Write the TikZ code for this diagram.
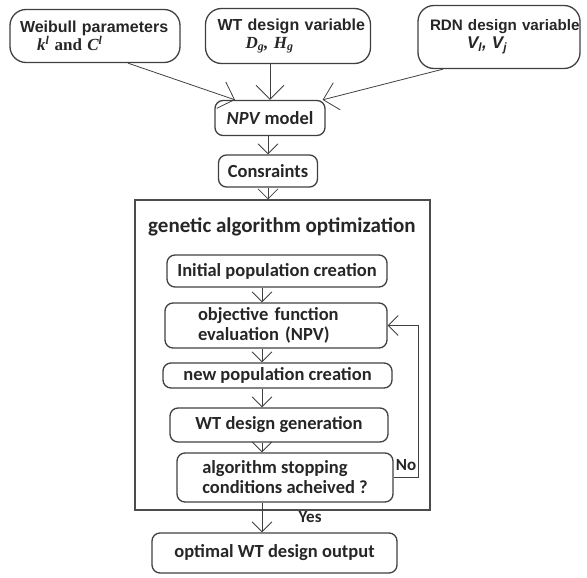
\documentclass[tikz,border=0pt]{standalone}
\usepackage{fontspec}
\setmainfont{Carlito}
\newfontfamily\arialfont{Liberation Sans}
\newfontfamily\timesfont{Liberation Serif}
\usetikzlibrary{arrows.meta}

\begin{document}
\begin{tikzpicture}[x=1pt, y=-1pt]

  \tikzset{flowbox/.style = {shape=rectangle, draw=black!75, line width=1.3pt, rounded corners=8pt,
      inner xsep=2pt, inner ysep=0pt, text=black!85, align=left,
      font=\bfseries\fontsize{18.5}{20}\selectfont}}
  \tikzset{inputbox/.style = {flowbox, rounded corners=16pt, inner xsep=10pt, font=\arialfont\bfseries\fontsize{16}{18}\selectfont}}
  \tikzset{edge/.style = {-{Straight Barb[length=10pt,width=20pt]}, line width=0.8pt, black!75}}
  \tikzset{bigedge/.style = {edge, -{Straight Barb[length=14pt,width=28pt]}}}
  \useasboundingbox (0,0) rectangle (587,578);
  % input boxes
  \node[inputbox, minimum width=170pt, minimum height=53pt, text width=150pt] (weib) at (95,36)
    {\mbox{Weibull parameters}\\\hspace*{17pt}{\timesfont\fontsize{17}{18}\selectfont\itshape k\textsuperscript{l}\upshape{} and \itshape C\textsuperscript{l}}};
  \node[inputbox, minimum width=165pt, minimum height=55pt, text width=141pt, inner xsep=12pt] (wtvar) at (288,36)
    {\mbox{WT design variable}\\\hspace*{28pt}{\timesfont\fontsize{17}{18}\selectfont\itshape D\textsubscript{g}, H\textsubscript{g}}};
  \node[inputbox, minimum width=162pt, minimum height=63pt, text width=138pt, inner xsep=12pt,
        font=\arialfont\bfseries\fontsize{15.2}{18}\selectfont] (rdn) at (499,37)
    {\mbox{RDN design variable}\\\hspace*{37pt}{\fontsize{17}{18}\selectfont\itshape V\textsubscript{l}, V\textsubscript{j}}};
  % main chain
  \node[flowbox, minimum width=110pt, minimum height=35pt] (npv) at (270,118) {\textit{NPV} model};
  \node[flowbox, minimum width=99pt, minimum height=32pt] (cons) at (268,171) {Consraints};
  \node[draw=black!70, line width=1.2pt, minimum width=295pt, minimum height=310pt] (ga) at (282.5,355) {};
  \node[font=\bfseries\fontsize{21}{24}\selectfont, text=black!85] (gatitle) at (282,227) {genetic algorithm optimization};
  \node[flowbox, minimum width=220pt, minimum height=32pt] (init) at (277,271) {Initial population creation};
  \node[flowbox, minimum width=222pt, minimum height=45pt, text width=156pt, inner xsep=33pt] (obj) at (276,325.5)
    {\mbox{objective function}\\\mbox{evaluation (NPV)}};
  \node[flowbox, minimum width=229pt, minimum height=25pt] (newpop) at (277.5,375.5) {new population creation};
  \node[flowbox, minimum width=218pt, minimum height=34pt] (wtgen) at (279,425) {WT design generation};
  \node[flowbox, minimum width=216pt, minimum height=49pt] (stop) at (285,477.5)
    {algorithm stopping\\conditions acheived ?};
  \node[flowbox, minimum width=245pt, minimum height=40pt] (out) at (274.5,553) {optimal WT design output};
  \coordinate (ax) at (262,0);
  % edges
  \draw[bigedge] ([xshift=33pt]weib.south) -- ([xshift=-35pt]npv.north);
  \draw[bigedge] (wtvar.south -| npv.north) -- (npv.north);
  \draw[bigedge] ([xshift=-56pt]rdn.south) -- ([xshift=-3pt]npv.north east);
  \draw[edge] (npv.south -| cons.north) -- (cons.north);
  \draw[edge] (cons.south) -- (cons.south |- ga.north);
  \draw[edge] (init.south -| ax) -- (obj.north -| ax);
  \draw[edge] (obj.south -| ax) -- (newpop.north -| ax);
  \draw[edge] (newpop.south -| ax) -- (wtgen.north -| ax);
  \draw[edge] (wtgen.south -| ax) -- (stop.north -| ax);
  \draw[edge] (stop.south -| ax) -- node[anchor=west, xshift=33pt, font=\bfseries\fontsize{17}{20}\selectfont, text=black!85] {Yes} (out.north -| ax);
  \draw[edge] (stop.east) -- node[above, yshift=3pt, font=\bfseries\fontsize{17}{20}\selectfont, text=black!85] {No} ++(25,0) |- (obj.east);
\end{tikzpicture}
\end{document}
